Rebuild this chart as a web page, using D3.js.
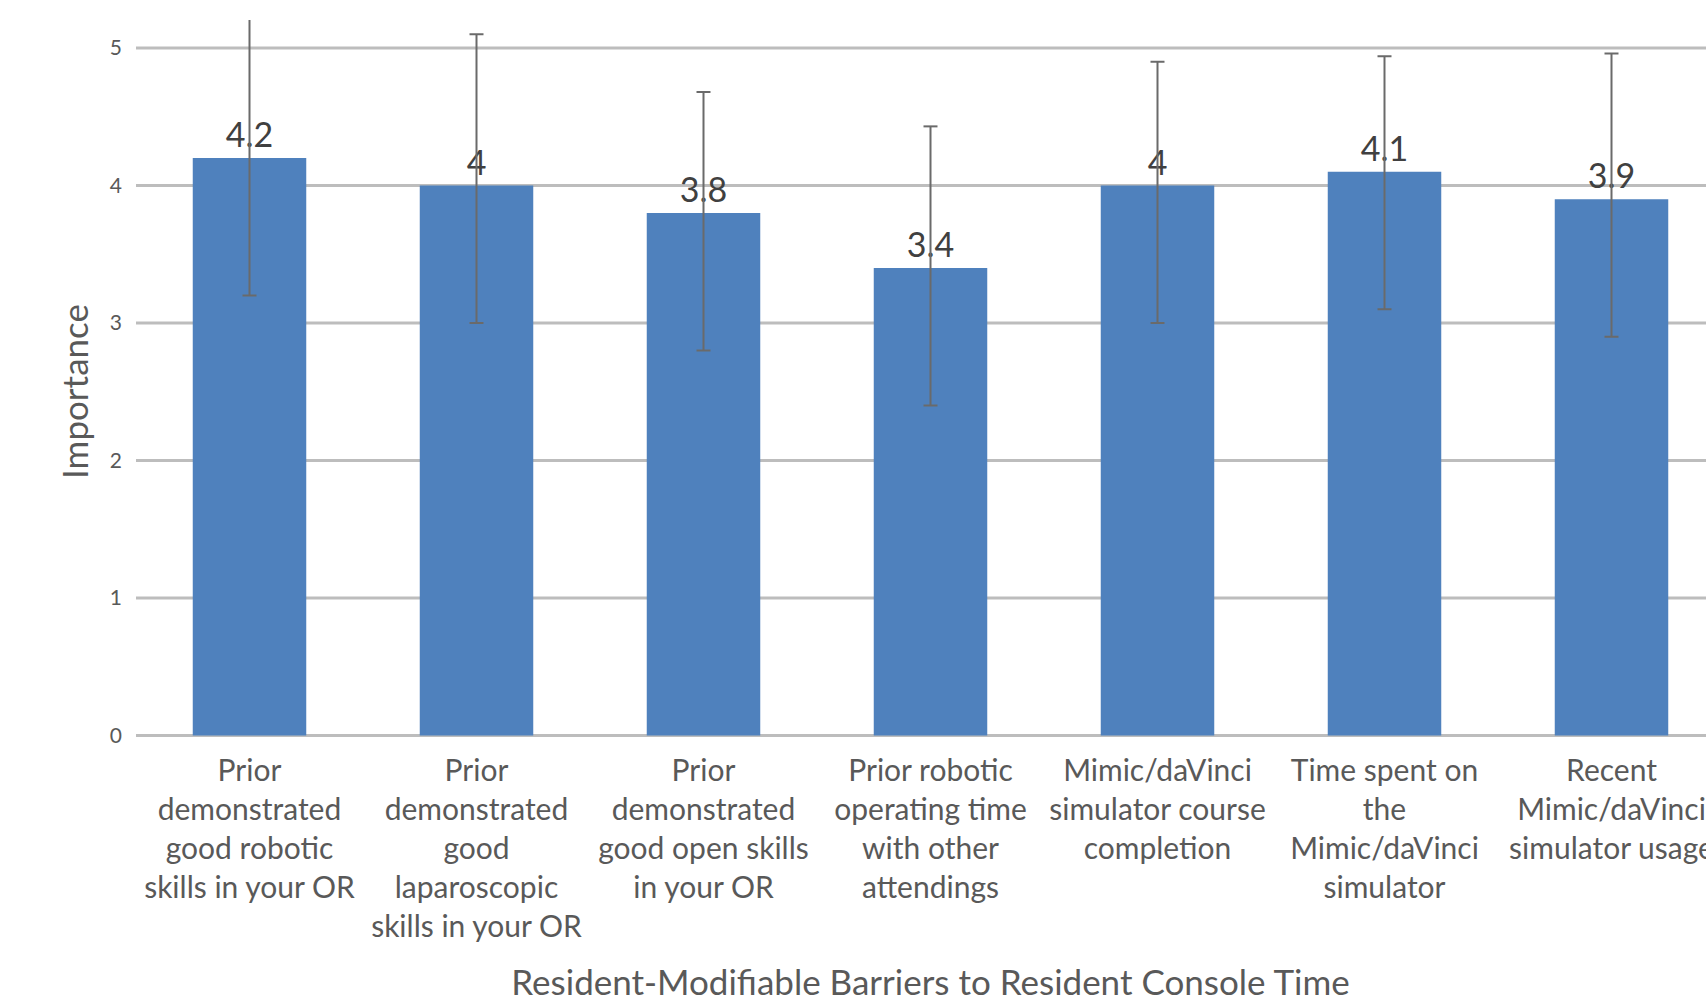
<!DOCTYPE html>
<html>
<head>
<meta charset="utf-8">
<script src="https://cdn.jsdelivr.net/npm/d3@7"></script>
<style>
  html, body { margin: 0; padding: 0; background: #ffffff; }
  svg { display: block; }
  text { font-family: Lato, "Open Sans", sans-serif; }
</style>
</head>
<body>
<svg id="chart" width="1706" height="1002"></svg>
<script>
// ---- data ----
const categories = [
  "Prior\ndemonstrated\ngood robotic\nskills in your OR",
  "Prior\ndemonstrated\ngood\nlaparoscopic\nskills in your OR",
  "Prior\ndemonstrated\ngood open skills\nin your OR",
  "Prior robotic\noperating time\nwith other\nattendings",
  "Mimic/daVinci\nsimulator course\ncompletion",
  "Time spent on\nthe\nMimic/daVinci\nsimulator",
  "Recent\nMimic/daVinci\nsimulator usage"
];
const values = [4.2, 4.0, 3.8, 3.4, 4.0, 4.1, 3.9];
const errPlus = [1.1, 1.1, 0.88, 1.03, 0.9, 0.84, 1.06];
const errMinus = [1.0, 1.0, 1.0, 1.0, 1.0, 1.0, 1.0];
const yTicks = [0, 1, 2, 3, 4, 5];
const xTitle = "Resident-Modifiable Barriers to Resident Console Time";
const yTitle = "Importance";

// ---- layout ----
const svg = d3.select("#chart");
const plotLeft = 136, plotRight = 1725, plotTop = 48, plotBottom = 735.5;

const x = d3.scaleBand().domain(categories).range([plotLeft, plotRight])
  .paddingInner(0.5).paddingOuter(0.25);
const y = d3.scaleLinear().domain([0, 5]).range([plotBottom, plotTop]);

// gridlines
svg.append("g").selectAll("line").data(yTicks).join("line")
  .attr("x1", plotLeft).attr("x2", 1706)
  .attr("y1", d => y(d)).attr("y2", d => y(d))
  .attr("stroke", "#bdbdbd").attr("stroke-width", 3);

// y axis tick labels
const yAxis = d3.axisLeft(y).tickValues(yTicks).tickSize(0).tickPadding(14).tickFormat(d3.format("d"));
const gy = svg.append("g").attr("transform", `translate(${plotLeft},0)`).call(yAxis);
gy.select(".domain").remove();
gy.selectAll("text").attr("font-size", 21).attr("fill", "#595959")
  .style("font-family", "Lato, sans-serif");

// bars
svg.append("g").selectAll("rect").data(values).join("rect")
  .attr("x", (d, i) => x(categories[i]))
  .attr("width", x.bandwidth())
  .attr("y", d => y(d))
  .attr("height", d => y(0) - y(d))
  .attr("fill", "#4f81bd");

// data labels
svg.append("g").selectAll("text").data(values).join("text")
  .attr("x", (d, i) => x(categories[i]) + x.bandwidth() / 2)
  .attr("y", d => y(d) - 11)
  .attr("text-anchor", "middle")
  .attr("font-size", 34)
  .attr("fill", "#404040")
  .text(d => d3.format("~g")(d));

// error bars (clipped at top of picture area)
svg.append("clipPath").attr("id", "clipTop")
  .append("rect").attr("x", 0).attr("y", 20).attr("width", 1706).attr("height", 1000);
const eg = svg.append("g").attr("clip-path", "url(#clipTop)");
values.forEach((v, i) => {
  const cx = x(categories[i]) + x.bandwidth() / 2;
  const y1 = y(v + errPlus[i]), y2 = y(v - errMinus[i]);
  eg.append("line").attr("x1", cx).attr("x2", cx).attr("y1", y1).attr("y2", y2)
    .attr("stroke", "#6a6a6a").attr("stroke-width", 2);
  [y1, y2].forEach(yy => eg.append("line")
    .attr("x1", cx - 7).attr("x2", cx + 7).attr("y1", yy).attr("y2", yy)
    .attr("stroke", "#6a6a6a").attr("stroke-width", 2));
});

// category labels
const lh = 39;
const catG = svg.append("g");
categories.forEach(c => {
  const t = catG.append("text")
    .attr("x", x(c) + x.bandwidth() / 2)
    .attr("y", 781)
    .attr("text-anchor", "middle")
    .attr("font-size", 30)
    .attr("fill", "#595959");
  c.split("\n").forEach((line, j) => {
    t.append("tspan").attr("x", x(c) + x.bandwidth() / 2)
      .attr("y", 781 + j * lh).text(line);
  });
});

// axis titles
svg.append("text")
  .attr("x", (plotLeft + plotRight) / 2).attr("y", 995)
  .attr("text-anchor", "middle").attr("font-size", 35).attr("fill", "#595959")
  .text(xTitle);
svg.append("text")
  .attr("transform", `translate(88, ${(305 + 478) / 2}) rotate(-90)`)
  .attr("text-anchor", "middle").attr("font-size", 35).attr("fill", "#595959")
  .text(yTitle);
</script>
</body>
</html>
